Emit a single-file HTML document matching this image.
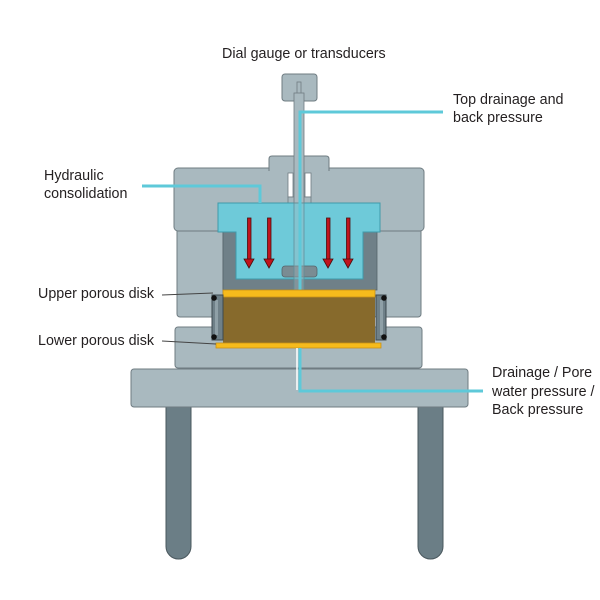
<!DOCTYPE html>
<html><head><meta charset="utf-8"><style>
html,body{margin:0;padding:0;background:#fff;}
svg{display:block;}
text{font-family:"Liberation Sans",sans-serif;font-size:14.3px;fill:#231f20;}
</style></head><body>
<svg width="600" height="600" viewBox="0 0 600 600" xmlns="http://www.w3.org/2000/svg">
<rect width="600" height="600" fill="#fff"/>
<!-- legs -->
<path d="M166 404 V546.5 a12.5 12.5 0 0 0 25 0 V404 Z" fill="#6b7e86" stroke="#4a585e" stroke-width="1"/>
<path d="M418 404 V546.5 a12.5 12.5 0 0 0 25 0 V404 Z" fill="#6b7e86" stroke="#4a585e" stroke-width="1"/>
<!-- table top -->
<rect x="131" y="369" width="337" height="38" rx="3" fill="#a9b9bf" stroke="#6f7c82" stroke-width="1"/>
<!-- base block -->
<rect x="175" y="327" width="247" height="41" rx="3" fill="#a9b9bf" stroke="#6f7c82" stroke-width="1"/>
<!-- upper lower blocks -->
<rect x="177" y="225" width="46" height="92" rx="3" fill="#a9b9bf" stroke="#6f7c82" stroke-width="1"/>
<rect x="373" y="225" width="48" height="92" rx="3" fill="#a9b9bf" stroke="#6f7c82" stroke-width="1"/>
<!-- top body -->
<rect x="174" y="168" width="250" height="63" rx="4" fill="#a9b9bf" stroke="#6f7c82" stroke-width="1"/>
<!-- cap -->
<path d="M269 171 V159 Q269 156 272 156 H326 Q329 156 329 159 V171" fill="#a9b9bf" stroke="#6f7c82" stroke-width="1"/>
<!-- white gaps around rod -->
<rect x="288" y="173" width="5" height="24" fill="#fff" stroke="#6f7c82" stroke-width="0.8"/>
<rect x="305" y="173" width="6" height="24" fill="#fff" stroke="#6f7c82" stroke-width="0.8"/>
<rect x="288" y="197" width="23" height="6" fill="#a9b9bf" stroke="#6f7c82" stroke-width="0.8"/>
<!-- inner dark walls -->
<rect x="223" y="231" width="154" height="59" fill="#6f8088" stroke="#55646b" stroke-width="0.8"/>
<!-- blue piston -->
<path d="M218 203 H380 V232 H363 V279 H236 V232 H218 Z" fill="#6ecad9" stroke="#3f9aaa" stroke-width="1"/>
<!-- small cavity -->
<rect x="282" y="266" width="35" height="11" rx="3" fill="#7a8c93" stroke="#55646b" stroke-width="0.8"/>
<!-- rod -->
<rect x="282" y="74" width="35" height="27" rx="3" fill="#a9b9bf" stroke="#6f7c82" stroke-width="1"/>
<rect x="297" y="82" width="4" height="12" fill="#a9b9bf" stroke="#6f7c82" stroke-width="0.8"/>
<rect x="294" y="93" width="10" height="110" fill="#a9b9bf" stroke="#6f7c82" stroke-width="0.8"/>
<rect x="294" y="203" width="10" height="87" fill="#a9b9bf" fill-opacity="0.35" stroke="#5f8f99" stroke-width="0.8"/>
<!-- top drainage line -->
<path d="M300 290 V112 H443" fill="none" stroke="#5ec9d9" stroke-width="3"/>
<!-- hydraulic line -->
<path d="M142 186 H260 V203" fill="none" stroke="#5ec9d9" stroke-width="3"/>
<!-- arrows -->
<g fill="#c0141d" stroke="#4a0d0d" stroke-width="0.8">
<rect x="247.5" y="218" width="3.5" height="42"/>
<polygon points="244,259 254,259 249,268"/>
<rect x="267.5" y="218" width="3.5" height="42"/>
<polygon points="264,259 274,259 269,268"/>
<rect x="326.5" y="218" width="3.5" height="42"/>
<polygon points="323,259 333,259 328,268"/>
<rect x="346.5" y="218" width="3.5" height="42"/>
<polygon points="343,259 353,259 348,268"/>
</g>
<!-- porous disks & soil -->
<rect x="223" y="297" width="152" height="46" fill="#876a2c"/>
<rect x="223" y="290" width="152" height="7" fill="#f6bb1c" stroke="#c8921a" stroke-width="0.8"/>
<rect x="216" y="343" width="165" height="5" fill="#f6bb1c" stroke="#c8921a" stroke-width="0.8"/>
<!-- rings -->
<rect x="212" y="295" width="11" height="45" fill="#6f8088" stroke="#3e4a50" stroke-width="1"/>
<rect x="215" y="300" width="3" height="35" fill="#8fa0a7"/>
<rect x="376" y="295" width="10" height="45" fill="#6f8088" stroke="#3e4a50" stroke-width="1"/>
<rect x="380" y="300" width="3" height="35" fill="#8fa0a7"/>
<circle cx="214" cy="298" r="2.8" fill="#111"/>
<circle cx="214" cy="337" r="2.8" fill="#111"/>
<circle cx="384" cy="298" r="2.8" fill="#111"/>
<circle cx="384" cy="337" r="2.8" fill="#111"/>
<!-- bottom drainage -->
<path d="M297 348 V390" stroke="#fff" stroke-width="1.5"/>
<path d="M300 348 V391 H483" fill="none" stroke="#5ec9d9" stroke-width="3"/>
<!-- leader lines -->
<path d="M162 295 L213 293" stroke="#444" stroke-width="1" fill="none"/>
<path d="M162 341 L216 344" stroke="#444" stroke-width="1" fill="none"/>
<!-- labels -->
<text x="222" y="58">Dial gauge or transducers</text>
<text x="453" y="104">Top drainage and</text>
<text x="453" y="122">back pressure</text>
<text x="44" y="180">Hydraulic</text>
<text x="44" y="198">consolidation</text>
<text x="38" y="298">Upper porous disk</text>
<text x="38" y="345">Lower porous disk</text>
<text x="492" y="377">Drainage / Pore</text>
<text x="492" y="396">water pressure /</text>
<text x="492" y="414">Back pressure</text>
</svg>
</body></html>
